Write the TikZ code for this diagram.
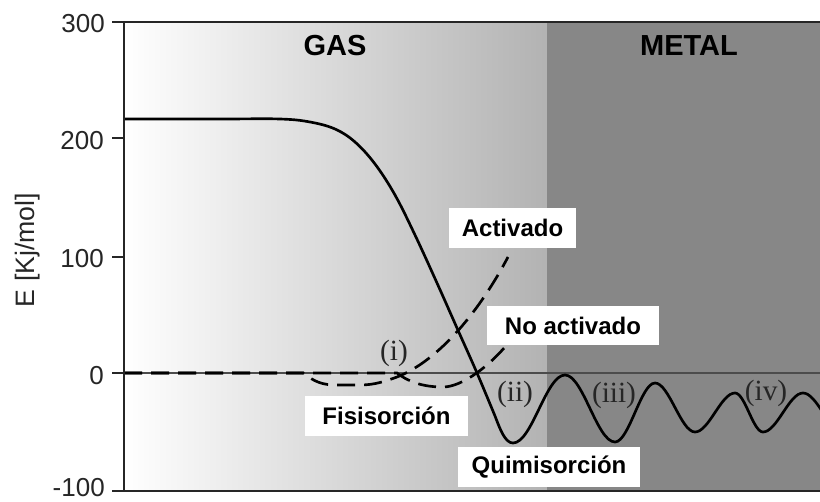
\documentclass[tikz,border=0pt]{standalone}
\usepackage{fontspec}
\newfontfamily\arial{Liberation Sans}
\newfontfamily\romserif{Liberation Serif}
\begin{document}
\begin{tikzpicture}[x=0.75pt,y=-0.75pt,
  axisline/.style={draw=black!85,line width=1.5pt},
  ticklbl/.style={font=\arial\fontsize{19.5}{22}\selectfont,anchor=east,inner sep=0pt,text=black!85},
  regionlbl/.style={font=\arial\bfseries\fontsize{21.75}{24}\selectfont,inner sep=0pt},
  boxlbl/.style={fill=white,font=\arial\bfseries\fontsize{18}{20}\selectfont,inner sep=0pt,minimum height=29.5pt},
  romanlbl/.style={font=\romserif\fontsize{22}{24}\selectfont,text=black!85,inner sep=0pt},
  solidcurve/.style={line width=2pt,black},
  dashcurve/.style={line width=2pt,black,dash pattern=on 13.5pt off 6.75pt}
]
\useasboundingbox (0,0) rectangle (820,502);
\fill[white] (0,0) rectangle (820,502);
% backgrounds
\shade[left color=white,right color=black!30] (124,22) rectangle (547,491);
\fill[black!47] (547,22) rectangle (820,491);
% zero line
\draw[black!70,line width=0.9pt] (124,373) -- (820,373);
\begin{scope}
\clip (124,22) rectangle (820,491);
% dashed curves
\draw[dashcurve] (124,373) -- (303,373) .. controls (315,382) and (322,385) .. (337,385) -- (360,385) .. controls (375,385) and (386,381) .. (397,377) .. controls (440,360) and (480,310) .. (508,257);
\draw[dashcurve] (124,373) -- (397,373) .. controls (410,383) and (425,387) .. (443,387) .. controls (462,387) and (490,366) .. (510,341);
% solid curve
\draw[solidcurve] plot[smooth,tension=0.6] coordinates {(124,119) (220,119) (280,119) (310,122) (335,129) (355,142) (375,164) (395,195) (415,235) (437,283) (457,328) (477,373) (495,416)}
  .. controls (500,429) and (505,443) .. (513,443)
  .. controls (532,443) and (546,375) .. (565,375)
  .. controls (583,375) and (597,442) .. (615,442)
  .. controls (629,442) and (641,383) .. (655,383)
  .. controls (669,383) and (681,432) .. (695,432)
  .. controls (709,432) and (721,393) .. (735,393)
  .. controls (745,393) and (753,432) .. (763,432)
  .. controls (777,432) and (789,393) .. (803,393)
  .. controls (817,393) and (829,432) .. (843,432);
\end{scope}
% axes
\draw[axisline] (124,22) -- (820,22);
\draw[axisline] (124,491) -- (820,491);
\draw[axisline] (124,22) -- (124,491);
\foreach \yy in {22,138,257,373,491} \draw[axisline] (112,\yy) -- (124,\yy);
\node[ticklbl] (t300) at (105,24) {300};
\node[ticklbl] (t200) at (104,141) {200};
\node[ticklbl] (t100) at (104,259) {100};
\node[ticklbl] (t0) at (104,376) {0};
\node[ticklbl] (tm100) at (105,488) {-100};
\node[rotate=90,font=\arial\fontsize{20}{22}\selectfont,inner sep=0pt,text=black!85] (ylab) at (28,250) {E [Kj/mol]};
% region labels
\node[regionlbl] (gas) at (335,46) {GAS};
\node[regionlbl] (metal) at (689,46) {METAL};
% boxed labels
\node[boxlbl,minimum width=95.25pt] (activado) at (512.5,228) {Activado};
\node[boxlbl,minimum width=129pt] (noact) at (573,325.5) {No activado};
\node[boxlbl,minimum width=122.25pt] (fisi) at (386.5,416) {Fisisorción};
\node[boxlbl,minimum width=136.5pt] (quimi) at (549,467) {Quimisorción};
% roman labels
\node[romanlbl] (r1) at (394,353) {(i)};
\node[romanlbl] (r2) at (515,394) {(ii)};
\node[romanlbl] (r3) at (614,395) {(iii)};
\node[romanlbl] (r4) at (766,393) {(iv)};
\end{tikzpicture}
\end{document}
